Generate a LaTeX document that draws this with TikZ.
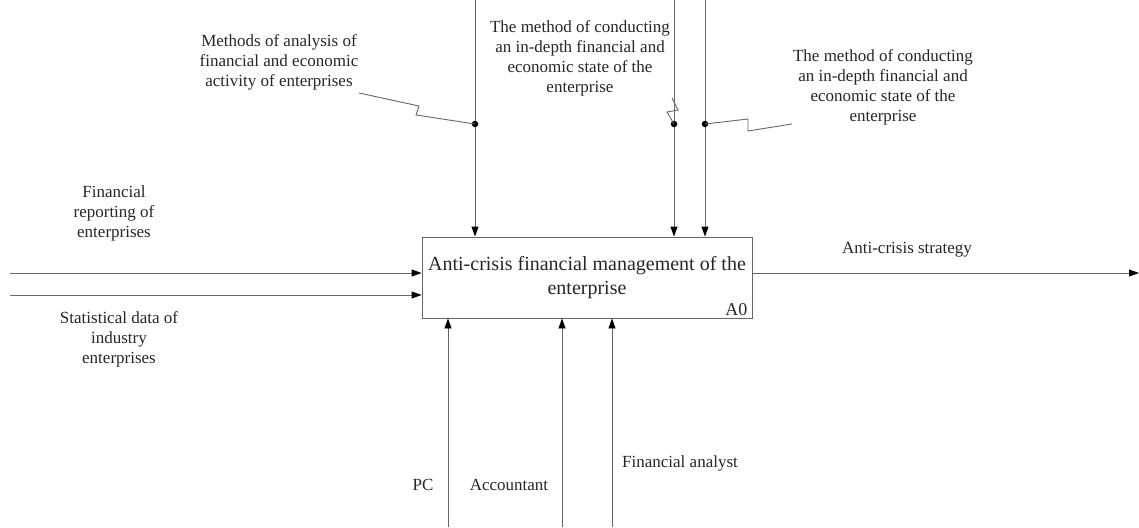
\documentclass[tikz,border=0pt]{standalone}
\usepackage{fontspec}
\setmainfont{Liberation Serif}
\usetikzlibrary{arrows.meta}
\begin{document}
\begin{tikzpicture}[x=1pt,y=-1pt,
  conn/.style={draw=black!60, line width=0.9pt},
  arr/.style={conn, -{Triangle[length=10pt,width=7pt,color=black]}},
  lbl/.style={font=\fontsize{17}{20}\selectfont, align=center, inner sep=0pt, text=black!85},
  dot/.style={circle, fill=black, inner sep=0pt, minimum size=6.5pt}]
\useasboundingbox (0,0) rectangle (1139,527);
% main activity box
\node[draw=black!60, line width=0.9pt, minimum width=330pt, minimum height=81pt, inner sep=0pt,
      font=\fontsize{20}{24}\selectfont, align=center, text=black!85] (box) at (587,277.5)
      {Anti-crisis financial management of the\\enterprise};
\node[lbl, font=\fontsize{18}{20}\selectfont, anchor=south east] (a0) at ([shift={(-5,-3)}]box.south east) {A0};
% controls (top)
\coordinate (c1) at (475,0);
\coordinate (c2) at (674,0);
\coordinate (c3) at (705,0);
\draw[arr] (c1) -- (c1 |- box.north);
\draw[arr] (c2) -- (c2 |- box.north);
\draw[arr] (c3) -- (c3 |- box.north);
\node[dot] (d1) at (475,124) {};
\node[dot] (d2) at (674,124) {};
\node[dot] (d3) at (705,124) {};
\node[lbl] (m1) at (279,62) {Methods of analysis of\\financial and economic\\activity of enterprises};
\node[lbl] (m2) at (580,58) {The method of conducting\\an in-depth financial and\\economic state of the\\enterprise};
\node[lbl] (m3) at (883,87.5) {The method of conducting\\an in-depth financial and\\economic state of the\\enterprise};
\coordinate (s1) at (359,93);
\coordinate (s2) at (672,98);
\coordinate (s3) at (792,124);
\draw[conn] (s1) -- (419,106) -- (416,115) -- (d1.center);
\draw[conn] (s2) -- (678,110) -- (667,112) -- (d2.center);
\draw[conn] (s3) -- (748,131) -- (748,119) -- (d3.center);
% inputs (left)
\coordinate (i1) at (10,273);
\coordinate (i2) at (10,295);
\draw[arr] (i1) -- (i1 -| box.west);
\draw[arr] (i2) -- (i2 -| box.west);
\node[lbl] (fin) at (114,213) {Financial\\reporting of\\enterprises};
\node[lbl] (stat) at (119,339) {Statistical data of\\industry\\enterprises};
% output (right)
\coordinate (o1) at (1139,273);
\draw[arr] (box.east |- o1) -- (o1);
\node[lbl] (strat) at (907,250) {Anti-crisis strategy};
% mechanisms (bottom)
\coordinate (b1) at (448,527);
\coordinate (b2) at (562,527);
\coordinate (b3) at (612,527);
\draw[arr] (b1) -- (b1 |- box.south);
\draw[arr] (b2) -- (b2 |- box.south);
\draw[arr] (b3) -- (b3 |- box.south);
\node[lbl] (pc) at (423,485) {PC};
\node[lbl] (acc) at (509,485) {Accountant};
\node[lbl] (fa) at (680,463) {Financial analyst};
\end{tikzpicture}
\end{document}
